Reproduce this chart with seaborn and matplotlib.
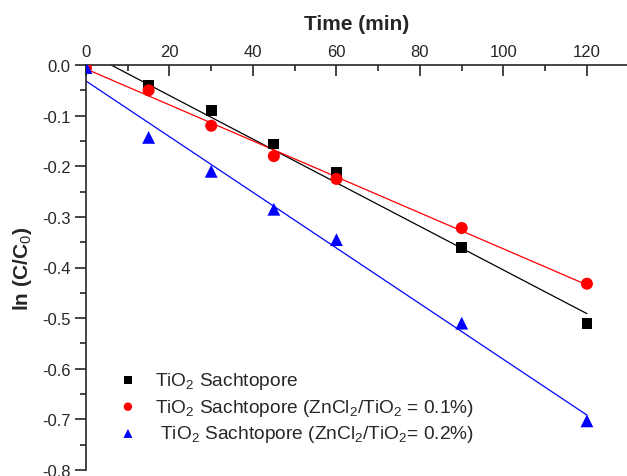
import numpy as np
import pandas as pd
import matplotlib
matplotlib.use("Agg")
import matplotlib.pyplot as plt
import seaborn as sns

# --- data ---
time_min = [0, 15, 30, 45, 60, 90, 120]
ln_plain = [0.0, -0.041, -0.090, -0.156, -0.213, -0.360, -0.510]
ln_zn01 = [-0.005, -0.050, -0.120, -0.180, -0.225, -0.322, -0.432]
ln_zn02 = [-0.005, -0.143, -0.210, -0.285, -0.345, -0.510, -0.703]

labels = [r"TiO$_2$ Sachtopore",
          r"TiO$_2$ Sachtopore (ZnCl$_2$/TiO$_2$ = 0.1%)",
          r" TiO$_2$ Sachtopore (ZnCl$_2$/TiO$_2$= 0.2%)"]
colors = ["black", "red", "blue"]
markers = ["s", "o", "^"]
sizes = [60, 75, 85]

df = pd.concat([
    pd.DataFrame({"time": time_min, "lnC": vals, "series": lab})
    for vals, lab in zip([ln_plain, ln_zn01, ln_zn02], labels)
])

sns.set_style("ticks")
plt.rcParams["font.family"] = ["Liberation Sans", "DejaVu Sans"]
plt.rcParams["mathtext.fontset"] = "custom"
plt.rcParams["mathtext.rm"] = "Liberation Sans"
plt.rcParams["mathtext.it"] = "Liberation Sans:italic"
plt.rcParams["mathtext.bf"] = "Liberation Sans:bold"

fig = plt.figure(figsize=(6.27, 4.77), dpi=100)
ax = fig.add_axes([86 / 627, 6 / 477, 541 / 627, 405 / 477])

for lab, c, m, s in zip(labels, colors, markers, sizes):
    sub = df[df["series"] == lab]
    # linear fit line
    sns.regplot(data=sub, x="time", y="lnC", ax=ax, scatter=False, ci=None,
                color=c, line_kws={"lw": 0.9})
    sns.scatterplot(data=sub, x="time", y="lnC", ax=ax, color=c, marker=m,
                    s=s, edgecolor="none", label=lab, zorder=3)

ax.set_xlim(0, 129.6)
ax.set_ylim(-0.8, 0)

# axes styling: top x axis, left y axis
ax.spines["bottom"].set_visible(False)
ax.spines["right"].set_visible(False)
ax.spines["top"].set_linewidth(1.2)
ax.spines["left"].set_linewidth(1.2)
ax.xaxis.tick_top()
ax.xaxis.set_label_position("top")
ax.set_xticks(np.arange(0, 121, 20))
ax.set_xticks(np.arange(10, 121, 20), minor=True)
yt = np.round(np.arange(-0.8, 0.01, 0.1), 1) + 0.0
ax.set_yticks(yt)
ax.set_yticks(np.arange(-0.75, 0.0, 0.1), minor=True)
ax.set_yticklabels([f"{v:.1f}" for v in yt])
ax.tick_params(axis="x", which="major", direction="in", length=8, width=1.2,
               labelsize=12, pad=4)
ax.tick_params(axis="x", which="minor", direction="in", length=4, width=1.2)
ax.tick_params(axis="y", which="major", direction="out", length=8, width=1.2,
               labelsize=12, pad=3)
ax.tick_params(axis="y", which="minor", direction="out", length=4, width=1.2)

ax.set_xlabel("Time (min)", fontsize=15, fontweight="bold", labelpad=11)
ax.set_ylabel("ln (C/C$_0$)", fontsize=15, fontweight="bold", labelpad=6)

ax.legend(loc="upper left", bbox_to_anchor=(0.058, 0.247), frameon=False,
          fontsize=13.8, markerscale=0.7, handlelength=1.1, handletextpad=0.85,
          labelspacing=0.3, borderaxespad=0, borderpad=0)

fig.savefig("out.png", dpi=100)
